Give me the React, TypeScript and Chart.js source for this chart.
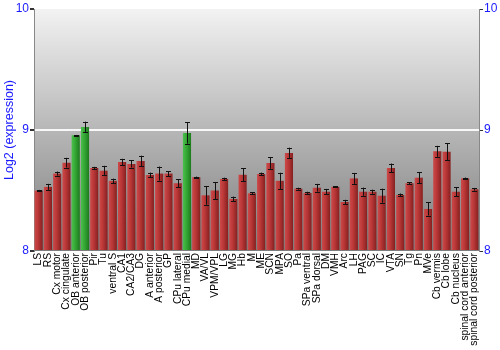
import React, { useEffect, useRef } from "react";
import { Chart, registerables } from "chart.js";

Chart.register(...registerables);

const categories = [
  "LS", "RS", "Cx motor", "Cx cingulate", "OB anterior", "OB posterior", "Pir", "Tu",
  "ventral S", "CA1", "CA2/CA3", "DG", "A anterior", "A posterior", "GP", "CPu lateral",
  "CPu medial", "MD", "VA/VL", "VPM/VPL", "LG", "MG", "Hb", "M", "ME", "SCN", "MPA", "SO",
  "Pa", "SPa ventral", "SPa dorsal", "DM", "VMH", "Arc", "LH", "PAG", "SC", "IC", "VTA",
  "SN", "Tg", "Pn", "MVe", "Cb vermis", "Cb lobe", "Cb nucleus", "spinal cord anterior",
  "spinal cord posterior",
];

const values = [
  8.50, 8.53, 8.64, 8.73, 8.956, 9.025, 8.686, 8.664,
  8.58, 8.736, 8.72, 8.744, 8.628, 8.64, 8.64, 8.56,
  8.975, 8.61, 8.46, 8.50, 8.595, 8.43, 8.63, 8.477, 8.636, 8.727, 8.58, 8.81,
  8.515, 8.48, 8.523, 8.49, 8.53, 8.405, 8.60, 8.49, 8.49, 8.457, 8.686,
  8.463, 8.56, 8.606, 8.347, 8.824, 8.82, 8.49, 8.60,
  8.51,
];

const errors = [
  0.005, 0.025, 0.017, 0.04, 0.003, 0.044, 0.01, 0.04,
  0.018, 0.026, 0.03, 0.044, 0.02, 0.058, 0.02, 0.032,
  0.088, 0.005, 0.077, 0.07, 0.011, 0.02, 0.054, 0.008, 0.012, 0.047, 0.067, 0.044,
  0.008, 0.01, 0.032, 0.023, 0.005, 0.018, 0.045, 0.034, 0.017, 0.058, 0.037,
  0.012, 0.008, 0.047, 0.054, 0.045, 0.07, 0.036, 0.007,
  0.011,
];

const highlighted = ["OB anterior", "OB posterior", "CPu medial"];

const yTicks = [8, 9, 10];

const CAT_PCT = 0.88;

function barFill(ctx: any) {
  const chart = ctx.chart;
  const green = highlighted.includes(categories[ctx.dataIndex]);
  const xs = chart.scales && chart.scales.x;
  if (!chart.chartArea || !xs) return green ? "#33a033" : "#b83434";
  const cx = xs.getPixelForValue(ctx.dataIndex);
  const w = (xs.width / categories.length) * CAT_PCT;
  const g = chart.ctx.createLinearGradient(cx - w / 2, 0, cx + w / 2, 0);
  if (green) {
    g.addColorStop(0, "#4cc04c");
    g.addColorStop(0.45, "#34a634");
    g.addColorStop(1, "#1d7a1d");
  } else {
    g.addColorStop(0, "#cc4a4a");
    g.addColorStop(0.45, "#b83636");
    g.addColorStop(1, "#852020");
  }
  return g;
}

const bgPlugin = {
  id: "bgGrad",
  beforeDraw(chart: any) {
    const { ctx, chartArea } = chart;
    if (!chartArea) return;
    const g = ctx.createLinearGradient(0, chartArea.top, 0, chartArea.bottom);
    g.addColorStop(0, "#f2f2f2");
    g.addColorStop(1, "#7c7c7c");
    ctx.save();
    ctx.fillStyle = g;
    ctx.fillRect(chartArea.left, chartArea.top, chartArea.right - chartArea.left, chartArea.bottom - chartArea.top);
    ctx.restore();
  },
};

const errPlugin = {
  id: "errBars",
  afterDatasetsDraw(chart: any) {
    const { ctx } = chart;
    const xs = chart.scales.x;
    const ys = chart.scales.y;
    ctx.save();
    ctx.strokeStyle = "#111";
    ctx.lineWidth = 1;
    values.forEach((v, i) => {
      const x = Math.round(xs.getPixelForValue(i)) + 0.5;
      const top = ys.getPixelForValue(v + errors[i]);
      const bot = ys.getPixelForValue(v - errors[i]);
      ctx.beginPath();
      ctx.moveTo(x, top);
      ctx.lineTo(x, bot);
      ctx.moveTo(x - 2.5, Math.round(top) + 0.5);
      ctx.lineTo(x + 2.5, Math.round(top) + 0.5);
      ctx.moveTo(x - 2.5, Math.round(bot) + 0.5);
      ctx.lineTo(x + 2.5, Math.round(bot) + 0.5);
      ctx.stroke();
    });
    ctx.restore();
  },
};

export default function App() {
  const ref = useRef<HTMLCanvasElement>(null);
  useEffect(() => {
    document.body.style.margin = "0";
    const chart = new Chart(ref.current!, {
      type: "bar",
      data: {
        labels: categories,
        datasets: [
          {
            data: values,
            backgroundColor: barFill,
            borderWidth: 0,
            categoryPercentage: CAT_PCT,
            barPercentage: 1,
            base: 8,
          },
        ],
      },
      options: {
        animation: false,
        responsive: false,
        layout: { padding: { top: 9, left: 0, right: 0, bottom: 0 } },
        plugins: { legend: { display: false }, tooltip: { enabled: false } },
        scales: {
          x: {
            grid: { display: false, drawTicks: false },
            border: { display: false },
            ticks: {
              autoSkip: false,
              maxRotation: 90,
              minRotation: 90,
              padding: 2,
              color: "#000",
              font: { family: "'Liberation Sans', Arial, sans-serif", size: 10.3 },
            },
            afterFit: (s: any) => {
              s.height = 99;
            },
          },
          y: {
            position: "left",
            min: 8,
            max: 10,
            afterBuildTicks: (s: any) => {
              s.ticks = yTicks.map((v) => ({ value: v }));
            },
            grid: {
              color: (c: any) => (c.tick && c.tick.value === 9 ? "rgba(255,255,255,0.9)" : "rgba(0,0,0,0)"),
              lineWidth: 2,
              tickColor: "#333",
              tickLength: 4,
            },
            border: { display: true, color: "#888", width: 1 },
            ticks: {
              color: "#1a1aff",
              padding: 1,
              font: { family: "'Liberation Sans', Arial, sans-serif", size: 12 },
            },
            title: {
              display: true,
              text: "Log2 (expression)",
              color: "#1a1aff",
              padding: { top: 2, bottom: 0 },
              font: { family: "'Liberation Sans', Arial, sans-serif", size: 12.5 },
            },
            afterFit: (s: any) => {
              s.width = 34;
            },
          },
          y2: {
            position: "right",
            min: 8,
            max: 10,
            afterBuildTicks: (s: any) => {
              s.ticks = yTicks.map((v) => ({ value: v }));
            },
            grid: { display: true, drawOnChartArea: false, tickColor: "#333", tickLength: 4 },
            border: { display: true, color: "#888", width: 1 },
            ticks: {
              color: "#1a1aff",
              padding: 1,
              font: { family: "'Liberation Sans', Arial, sans-serif", size: 12 },
            },
            afterFit: (s: any) => {
              s.width = 21;
            },
          },
        },
      },
      plugins: [bgPlugin, errPlugin],
    });
    return () => chart.destroy();
  }, []);
  return (
    <div style={{ width: 500, height: 350, background: "#fff" }}>
      <canvas ref={ref} width={500} height={350} />
    </div>
  );
}
